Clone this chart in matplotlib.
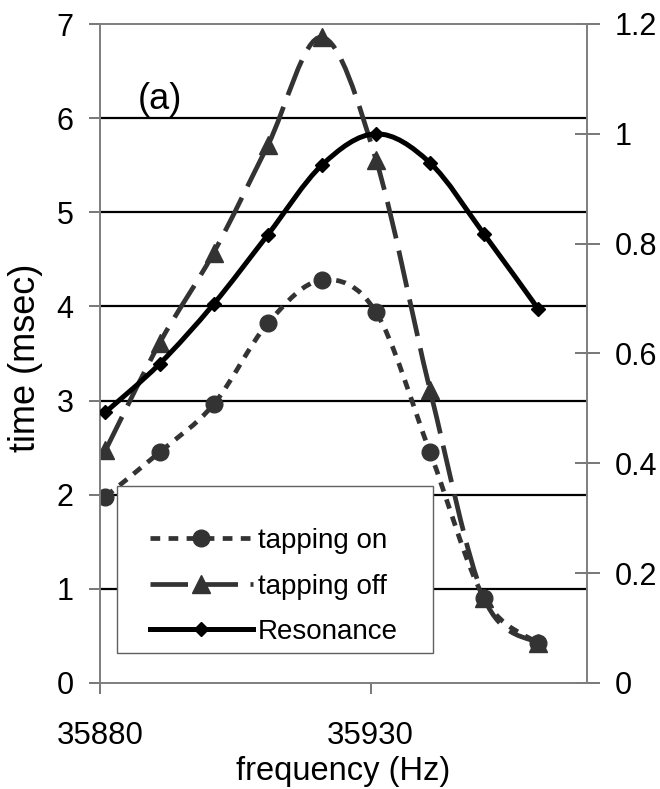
import matplotlib
matplotlib.use("Agg")
import matplotlib.pyplot as plt
import numpy as np
from matplotlib.lines import Line2D
from matplotlib.patches import PathPatch, Rectangle
from matplotlib.path import Path

# data
freq = [35881, 35891, 35901, 35911, 35921, 35931, 35941, 35951, 35961]
tapping_on = [1.98, 2.45, 2.96, 3.82, 4.28, 3.94, 2.45, 0.90, 0.42]
tapping_off = [2.47, 3.61, 4.57, 5.71, 6.86, 5.56, 3.11, 0.90, 0.42]
resonance = [0.493, 0.581, 0.690, 0.816, 0.943, 1.0, 0.947, 0.817, 0.681]

x_ticks = [35880, 35930]
left_ticks = [0, 1, 2, 3, 4, 5, 6, 7]
right_ticks = [0, 0.2, 0.4, 0.6, 0.8, 1.0, 1.2]
right_labels = ["0", "0.2", "0.4", "0.6", "0.8", "1", "1.2"]

plt.rcParams["font.family"] = ["Liberation Sans", "DejaVu Sans"]
plt.rcParams["lines.scale_dashes"] = False

DARK = "#333333"


def smooth_path(xs, ys):
    # Excel-style smoothed line: cubic Bezier with Catmull-Rom control points
    p = np.column_stack([xs, ys]).astype(float)
    n = len(p)
    verts = [p[0]]
    codes = [Path.MOVETO]
    for i in range(n - 1):
        p0 = p[i - 1] if i > 0 else p[i]
        p3 = p[i + 2] if i + 2 < n else p[i + 1]
        c1 = p[i] + (p[i + 1] - p0) / 6.0
        c2 = p[i + 1] - (p3 - p[i]) / 6.0
        verts += [c1, c2, p[i + 1]]
        codes += [Path.CURVE4] * 3
    return Path(verts, codes)


fig = plt.figure(figsize=(6.6, 7.89), dpi=100)
ax = fig.add_axes([100 / 660, 1 - 683 / 789, 487 / 660, 659 / 789])
ax2 = ax.twinx()

ax.set_xlim(35880, 35970)
ax.set_ylim(0, 7)
ax2.set_ylim(0, 1.2)

for v in left_ticks[1:-1]:
    ax.axhline(v, color="black", lw=1.6, zorder=1)

ls_on = (0, (7, 6))
ls_off = (0, (27, 9))

ax.add_patch(PathPatch(smooth_path(freq, tapping_on), fill=False, ec=DARK,
                       lw=3.4, ls=ls_on, zorder=3, capstyle="butt"))
ax.plot(freq, tapping_on, ls="none", marker="o", ms=12, color=DARK, zorder=4)

ax.add_patch(PathPatch(smooth_path(freq, tapping_off), fill=False, ec=DARK,
                       lw=3.4, ls=ls_off, zorder=3, capstyle="butt"))
ax.plot(freq, tapping_off, ls="none", marker="^", ms=13, color=DARK, zorder=4)

ax2.add_patch(PathPatch(smooth_path(freq, resonance), fill=False, ec="black",
                        lw=3.6, zorder=3))
ax2.plot(freq, resonance, ls="none", marker="D", ms=7, color="black", zorder=4)

for a in (ax, ax2):
    for s in a.spines.values():
        s.set_color("#808080")
        s.set_linewidth(1.3)

ax.set_xticks(x_ticks)
ax.set_xticklabels([str(t) for t in x_ticks])
ax.set_yticks(left_ticks)
ax.tick_params(axis="both", labelsize=22, color="#606060", width=1.2, length=8)
ax.tick_params(axis="x", pad=19, labelsize=22.5)
ax.tick_params(axis="y", pad=11)
ax2.set_yticks(right_ticks)
ax2.set_yticklabels(right_labels)
ax2.tick_params(axis="y", labelsize=22, direction="inout", length=18,
                color="#606060", width=1.2, pad=11)

ax.set_xlabel("frequency (Hz)", fontsize=23.5)
ax.xaxis.set_label_coords(0.5, -0.111)
ax.set_ylabel("time (msec)", fontsize=26)
ax.yaxis.set_label_coords(-0.117, 0.493)

ax.text(0.078, 0.885, "(a)", transform=ax.transAxes, fontsize=26,
        va="center", ha="left")

# legend frame drawn as its own box, entries placed inside it
ax2.add_patch(Rectangle((0.035, 0.0455), 0.649, 0.2535, transform=ax2.transAxes,
                        fc="white", ec="#606060", lw=1.0, zorder=6))
handles = [
    Line2D([], [], color=DARK, lw=3.4, ls=ls_on, marker="o", ms=12),
    Line2D([], [], color=DARK, lw=3.4, ls=ls_off, marker="^", ms=13),
    Line2D([], [], color="black", lw=3.6, marker="D", ms=7),
]
leg = ax2.legend(handles, ["tapping on", "tapping off", "Resonance"],
                 loc="center left", bbox_to_anchor=(0.1027, 0.1464),
                 fontsize=20, frameon=False, handlelength=3.7,
                 handletextpad=0.19, borderpad=0, labelspacing=0.7,
                 borderaxespad=0)
leg.set_zorder(7)

fig.savefig("out.png", dpi=100)
